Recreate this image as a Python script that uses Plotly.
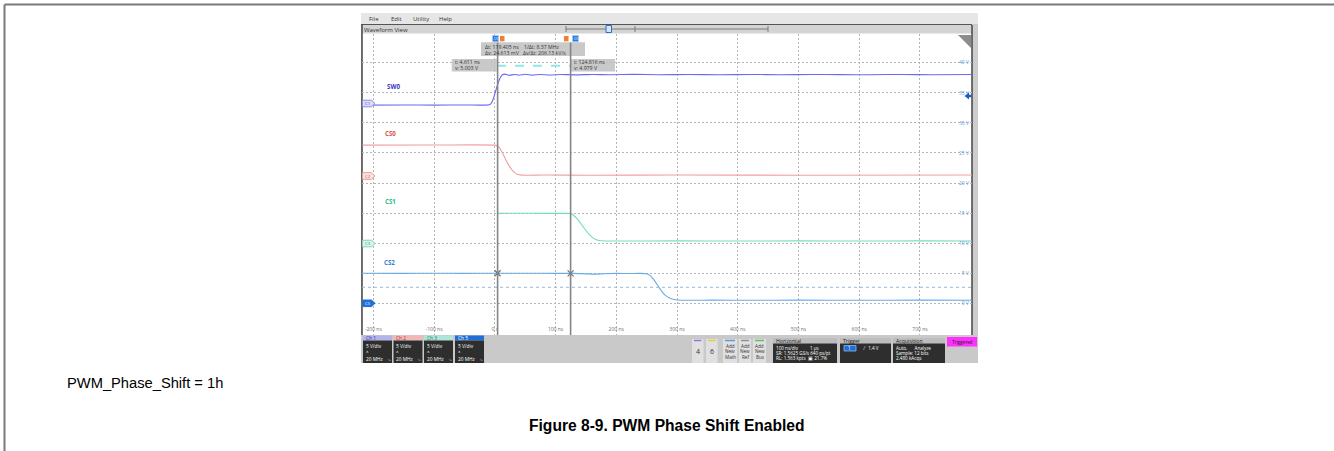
import plotly.graph_objects as go

# ---------------- data ----------------
time_tick_vals = [-200, -100, 0, 100, 200, 300, 400, 500, 600, 700]
time_tick_text = ["-200 ns", "-100 ns", "0 s", "100 ns", "200 ns", "300 ns", "400 ns", "500 ns", "600 ns", "700 ns"]
volt_tick_vals = [0, 5, 10, 15, 20, 25, 30, 35, 40]
volt_tick_text = ["0 V", "5 V", "10 V", "15 V", "20 V", "25 V", "30 V", "35 V", "40 V"]

t_sw0 = [-218, -150, -100, -50, -20, -8, -4, 0, 4, 8, 12, 17, 24, 32, 40, 50, 62, 75, 90, 110,
         135, 160, 190, 230, 270, 320, 370, 420, 470, 520, 570, 620, 670, 720, 786]
v_sw0 = [32.95, 32.97, 32.95, 32.97, 32.95, 33.05, 33.6, 34.8, 36.2, 37.3, 37.95, 38.1, 37.9, 38.05, 37.92,
         38.08, 37.93, 38.05, 37.96, 38.05, 37.97, 38.05, 38.0, 38.06, 38.0, 38.05, 38.0, 38.05, 38.0, 38.05,
         38.02, 38.0, 38.05, 38.0, 38.03]

t_cs0 = [-218, -100, 0, 4, 8, 12, 16, 20, 24, 28, 32, 36, 42, 50, 80, 150, 300, 500, 786]
v_cs0 = [26.3, 26.32, 26.3, 26.2, 25.8, 25.1, 24.3, 23.5, 22.8, 22.2, 21.8, 21.5, 21.35, 21.3, 21.33,
         21.3, 21.33, 21.3, 21.33]

t_cs1 = [4, 40, 80, 120, 126, 130, 135, 140, 145, 150, 155, 160, 166, 175, 200, 300, 400, 500, 600, 700, 786]
v_cs1 = [14.95, 14.97, 14.95, 14.95, 14.9, 14.6, 14.1, 13.5, 12.8, 12.1, 11.5, 11.0, 10.6, 10.4, 10.35,
         10.38, 10.35, 10.38, 10.35, 10.38, 10.36]

t_cs2 = [-218, -150, -100, -50, 0, 50, 100, 130, 150, 165, 180, 200, 220, 240, 250, 256, 262, 268, 274, 280,
         286, 292, 300, 320, 360, 420, 500, 600, 700, 786]
v_cs2 = [4.99, 4.98, 4.99, 4.98, 4.99, 4.99, 4.98, 4.98, 4.9, 4.85, 4.92, 4.97, 4.95, 4.97, 4.9, 4.6, 3.9,
         3.0, 2.1, 1.4, 0.95, 0.7, 0.55, 0.5, 0.52, 0.5, 0.52, 0.5, 0.52, 0.5]

cursor_t = [4.611, 124.816]
cursor_v = [5.003, 4.979]
delta_readout = ["Δt: 119.405 ns", "1/Δt: 8.37 MHz", "Δv: 24.613 mV", "Δv/Δt: 206.13 kV/s"]
cursor_readout = [["t: 4.611 ns", "v: 5.003 V"], ["t: 124.816 ns", "v: 4.979 V"]]
trace_names = ["SW0", "CS0", "CS1", "CS2"]
channel_tags = ["C1", "C2", "C3", "C5"]
channel_boxes = ["Ch 1", "Ch 2", "Ch 3", "Ch 5"]
menu_items = ["File", "Edit", "Utility", "Help"]

# ---------------- layout helpers ----------------
W, H = 1334, 451
def X(px): return px / W
def Y(py): return 1 - py / H

T0_PX, PX_PER_NS = 494.8, 0.6074
V0_PY, PX_PER_V = 303.3, 6.015
GX0, GX1, GY0, GY1 = 362, 972, 33.5, 335
xr = [(GX0 - T0_PX) / PX_PER_NS, (GX1 - T0_PX) / PX_PER_NS]
yr = [(V0_PY - GY1) / PX_PER_V, (V0_PY - GY0) / PX_PER_V]

SF = "Open Sans, Liberation Sans, sans-serif"
shapes, annots = [], []

def rect(x0, y0, x1, y1, fill, line=None, lw=0, layer="below"):
    shapes.append(dict(type="rect", xref="paper", yref="paper", x0=X(x0), x1=X(x1), y0=Y(y1), y1=Y(y0),
                       fillcolor=fill, line=dict(color=line or fill, width=lw), layer=layer))

def line(x0, y0, x1, y1, color, w=1, dash="solid", layer="below"):
    shapes.append(dict(type="line", xref="paper", yref="paper", x0=X(x0), x1=X(x1), y0=Y(y0), y1=Y(y1),
                       line=dict(color=color, width=w, dash=dash), layer=layer))

def path(pts, fill, layer="above", lc=None, lw=0):
    d = "M " + " L ".join(f"{X(a)},{Y(b)}" for a, b in pts) + " Z"
    shapes.append(dict(type="path", xref="paper", yref="paper", path=d, fillcolor=fill,
                       line=dict(color=lc or fill, width=lw), layer=layer))

def text(px, py, s, size=5.5, color="#222", anchor="left", family=SF, bold=False):
    if bold:
        s = "<b>" + s + "</b>"
    annots.append(dict(xref="paper", yref="paper", x=X(px), y=Y(py), text=s, showarrow=False,
                       xanchor=anchor, yanchor="middle", font=dict(size=size, color=color, family=family),
                       borderpad=0))

# ---------------- page frame ----------------
line(4.5, 4.5, 1334, 4.5, "#7a7a7a", 2)
line(4.5, 4.5, 4.5, 451, "#7a7a7a", 2)

# ---------------- scope window chrome ----------------
rect(361, 13, 978, 363, "#cdcdcd")
rect(361, 13, 978, 24, "#e6e6e6")
line(361, 24.5, 972, 24.5, "#555555", 1)
rect(361, 25, 972, 33.5, "#d4d4d4")
rect(GX0, GY0, GX1, GY1, "#ffffff")
line(362, 25, 362, GY1, "#444444", 1.5)
line(972, 25, 972, GY1, "#444444", 1.5)
for s, px in zip(menu_items, [368, 390, 412, 438]):
    text(px, 19, s, 6, "#333")
text(363, 29.5, "Waveform View", 6, "#333")
# overview bar
line(566, 29, 768, 29, "#7a7a7a", 1)
line(566, 26, 566, 32, "#7a7a7a", 1)
line(768, 26, 768, 32, "#7a7a7a", 1)
line(635, 26, 635, 32, "#7a7a7a", 1)
rect(606, 25.5, 611.5, 32.5, "#d6e4f8", "#2a6fd0", 1, "above")
# top-right corner triangle and trigger arrow
path([(958, 35), (971, 35), (971, 48)], "#8c8c8c")
path([(964.5, 96), (969, 92.5), (969, 94.8), (971.5, 94.8), (971.5, 97.2), (969, 97.2), (969, 99.5)], "#1a5cc8")
# extra dotted reference line
line(GX0, 287.3, GX1, 287.3, "#9ab8e0", 1, "dot", "above")
# cyan dashed segment between cursors
line(497, 65.8, 570, 65.8, "#8fe6ec", 2, "dash", "above")

# channel tags on left edge
tag_styles = [("#dcdcf8", "#8a8ae0", "#3a3ab8"), ("#fbe2e2", "#e89a9a", "#d04848"),
              ("#d8f4ec", "#80d0b8", "#28a080"), ("#1f6fd6", "#1f6fd6", "#ffffff")]
tag_y = [103.5, 176, 243.5, 303.3]
for tag, yy, (fc, lc, tc) in zip(channel_tags, tag_y, tag_styles):
    path([(362.5, yy - 3.3), (371.5, yy - 3.3), (375, yy), (371.5, yy + 3.3), (362.5, yy + 3.3)], fc, "above", lc, 1)
    text(367.5, yy, tag, 4.2, tc, "center")

# trace labels
label_pos = [(393, 86.7, "#3a3ac8"), (391, 133.3, "#e05050"), (391, 201.7, "#30b890"), (389, 262.3, "#3a80d0")]
for name, (px, py, c) in zip(trace_names, label_pos):
    text(px, py, name, 6.2, c, "center", bold=True)

# cursor readout boxes
rect(481, 42.3, 585, 56, "rgba(196,196,196,0.92)", layer="above")
rect(451.7, 59, 496.7, 71.5, "rgba(196,196,196,0.92)", layer="above")
rect(570.5, 59, 615, 71.5, "rgba(196,196,196,0.92)", layer="above")
text(484, 46.7, delta_readout[0], 5.2, "#333")
text(523, 46.7, delta_readout[1], 5.2, "#333")
text(484, 52.7, delta_readout[2], 5.2, "#333")
text(521.5, 52.7, delta_readout[3], 5.2, "#333")
for bx, lines in zip([454, 572.5], cursor_readout):
    text(bx, 62.3, lines[0], 5.2, "#333")
    text(bx, 68.3, lines[1], 5.2, "#333")
# cursor top tags
rect(492.5, 35.5, 498.5, 41.7, "#2a7de0", "#a8c8f0", 0.8, "above")
rect(500, 36, 504.5, 41.3, "#f08030", layer="above")
rect(564, 36, 568.5, 41.3, "#f08030", layer="above")
rect(572.5, 35.5, 578.5, 41.7, "#2a7de0", "#a8c8f0", 0.8, "above")
text(495.5, 38.6, "C5", 3.5, "#fff", "center")
text(575.5, 38.6, "C5", 3.5, "#fff", "center")

# ---------------- bottom status bar ----------------
rect(361, 335, 978, 363, "#c9c9c9")
ch_styles = [(363, "#b4b4ec", "#3030a0"), (393.5, "#f2b8b8", "#c03030"),
             (424, "#b0e4d6", "#208070"), (455, "#1f6fd6", "#ffffff")]
for name, (x0, hc, tc) in zip(channel_boxes, ch_styles):
    rect(x0, 335.5, x0 + 29, 340.5, hc)
    rect(x0, 340.5, x0 + 29, 363, "#2e2e2e")
    text(x0 + 1.5, 338, name, 4.8, tc)
    text(x0 + 1.5, 345.5, "5 V/div", 4.8, "#fff")
    text(x0 + 1.5, 350.5, "⩚", 4.5, "#ddd")
    text(x0 + 1.5, 359, "20 MHz", 4.8, "#fff")
    text(x0 + 26, 359, "⤷", 4.5, "#ddd", "center")
for lab, x0, x1, tc in [("4", 692, 703.5, "#a070e0"), ("6", 706, 717.5, "#e0d040")]:
    rect(x0, 339, x1, 363, "#e0e0e0")
    line(x0 + 2, 340.5, x1 - 2, 340.5, tc, 1.5)
    text((x0 + x1) / 2, 351, lab, 7, "#333", "center")
for x0, x1, tc, w in [(723, 737, "#5a9ae0", "Math"), (739, 751, "#909090", "Ref"), (753, 766, "#60c060", "Bus")]:
    rect(x0, 339, x1, 363, "#e0e0e0")
    line(x0 + 2, 340.5, x1 - 2, 340.5, tc, 1.5)
    text((x0 + x1) / 2, 345.5, "Add", 4.6, "#333", "center")
    text((x0 + x1) / 2, 351, "New", 4.6, "#333", "center")
    text((x0 + x1) / 2, 356.5, w, 4.6, "#333", "center")
for hdr, x0, x1 in [("Horizontal", 773, 837), ("Trigger", 840, 891), ("Acquisition", 893, 945)]:
    rect(x0, 338, x1, 343.5, "#bdbdbd")
    rect(x0, 343.5, x1, 363, "#2e2e2e")
    text(x0 + 2, 340.8, hdr, 5.2, "#222")
text(775, 348.3, "100 ns/div          1 µs", 4.6, "#fff")
text(775, 353.3, "SR: 1.5625 GS/s 640 ps/pt", 4.6, "#fff")
text(775, 358.3, "RL: 1.563 kpts  ▣ 21.7%", 4.6, "#fff")
rect(844, 345.5, 856, 351, "#1f6fd6", "#8ab8f0", 0.8)
text(850, 348.3, "1", 4.6, "#fff", "center")
text(862, 348.3, "⁄   1.4 V", 4.6, "#fff")
text(895, 348.3, "Auto,      Analyze", 4.6, "#fff")
text(895, 353.3, "Sample: 12 bits", 4.6, "#fff")
text(895, 358.3, "2.480 kAcqs", 4.6, "#fff")
rect(947, 337, 977, 346.5, "#ff30ff")
text(962, 341.8, "Triggered", 4.6, "#222", "center")

# ---------------- document text ----------------
text(66, 383, "PWM_Phase_Shift = 1h", 14.7, "#000", "left", "Liberation Sans, Arial, sans-serif")
text(666.5, 425, "Figure 8-9. PWM Phase Shift Enabled", 15.6, "#000", "center",
     "Liberation Sans, Arial, sans-serif", bold=True)

# ---------------- traces ----------------
fig = go.Figure()
trace_colors = ["#6a6af0", "#f0a0a0", "#72dcc0", "#6aaae6"]
for name, tt, vv, c in zip(trace_names, [t_sw0, t_cs0, t_cs1, t_cs2], [v_sw0, v_cs0, v_cs1, v_cs2], trace_colors):
    fig.add_trace(go.Scatter(x=tt, y=vv, mode="lines", name=name,
                             line=dict(color=c, width=1.1, shape="spline", smoothing=0.6),
                             hoverinfo="skip", showlegend=False))
fig.add_trace(go.Scatter(x=cursor_t, y=cursor_v, mode="markers", hoverinfo="skip", showlegend=False,
                         marker=dict(symbol="x-thin-open", size=6, color="#707070",
                                     line=dict(color="#707070", width=1.2))))

for ct in cursor_t:
    shapes.append(dict(type="line", xref="x", yref="y domain", x0=ct, x1=ct, y0=0, y1=0.97,
                       line=dict(color="#858585", width=1.6), layer="above"))

fig.update_layout(
    width=W, height=H, autosize=False, margin=dict(l=0, r=0, t=0, b=0),
    paper_bgcolor="#ffffff", plot_bgcolor="rgba(0,0,0,0)",
    shapes=shapes, annotations=annots,
    xaxis=dict(domain=[X(GX0), X(GX1)], range=xr, tickvals=time_tick_vals, ticktext=time_tick_text,
               ticklabelposition="inside", ticks="", showline=False, zeroline=False,
               showgrid=True, gridcolor="#b4b4b4", gridwidth=1, griddash="2px,2px",
               tickfont=dict(size=5, color="#707070", family=SF), fixedrange=True),
    yaxis=dict(domain=[Y(GY1), Y(GY0)], range=yr, side="right", tickvals=volt_tick_vals, ticktext=volt_tick_text,
               ticklabelposition="inside", ticks="", showline=False, zeroline=False,
               showgrid=True, gridcolor="#b4b4b4", gridwidth=1, griddash="2px,2px",
               tickfont=dict(size=5, color="#5a9ad8", family=SF), fixedrange=True),
)
fig.write_html("out.html", config={"displayModeBar": False},
               post_script="document.body.style.margin='0';document.body.style.overflow='hidden';")
